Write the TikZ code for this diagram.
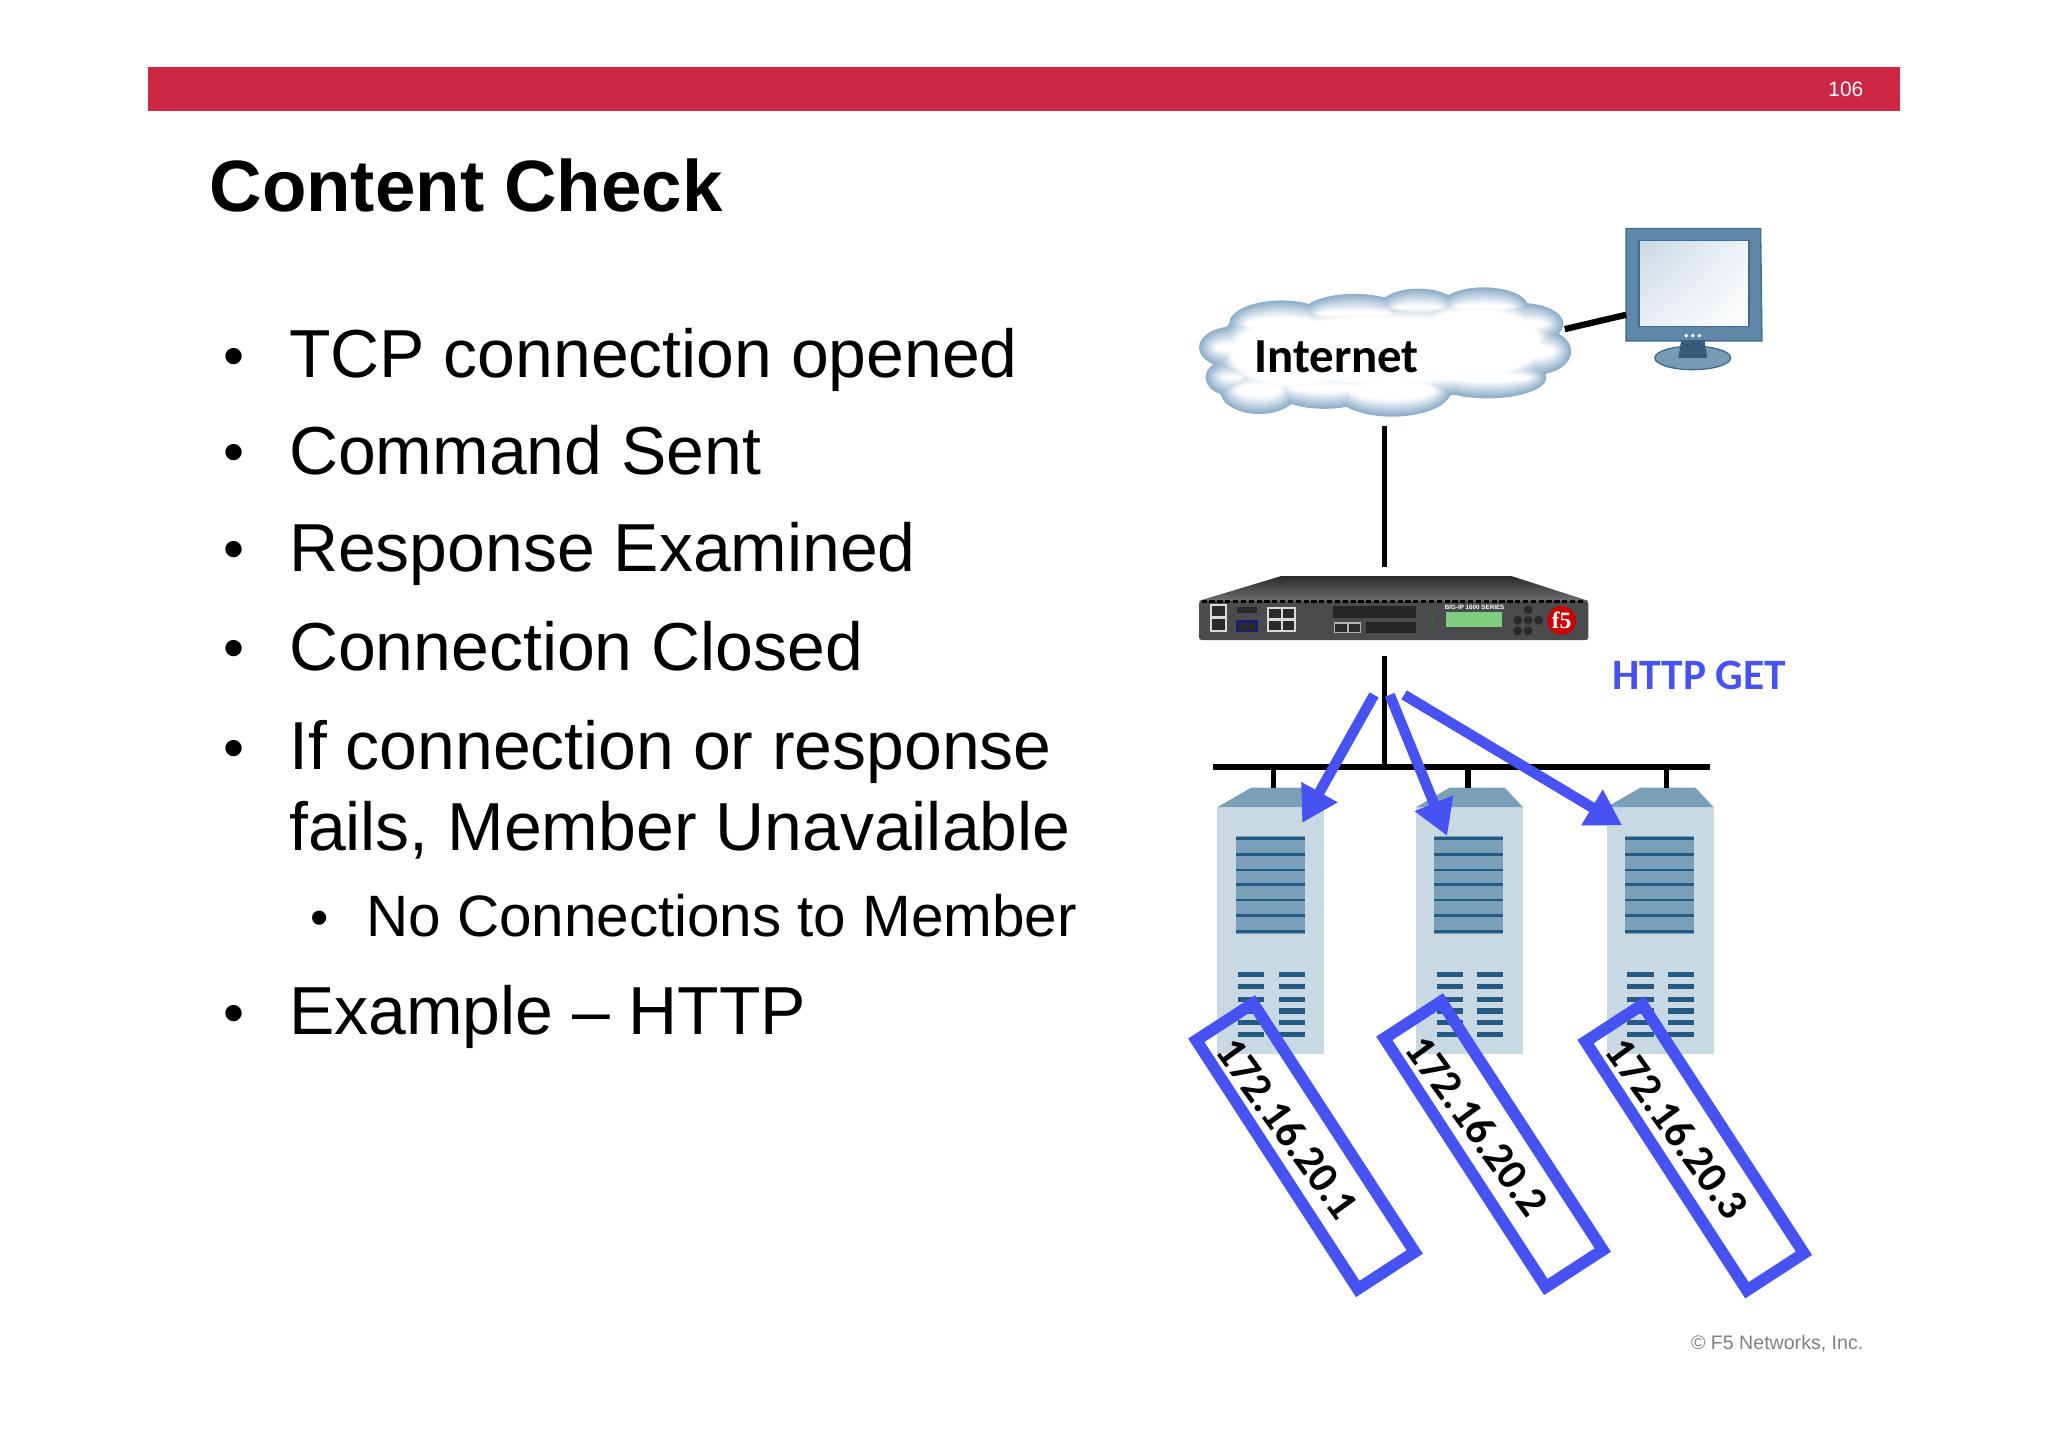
\documentclass[tikz,border=0pt]{standalone}
\usepackage{fontspec}
\setmainfont{Liberation Sans}
\newfontfamily\calib{Carlito}
\newfontfamily\serifbf{Liberation Serif}
\usetikzlibrary{arrows.meta,shapes.geometric,shadings}
\definecolor{barred}{HTML}{CC2744}
\definecolor{arrowblue}{HTML}{4653F2}
\definecolor{srvbody}{HTML}{C9D9E4}
\definecolor{srvtop}{HTML}{7C9FB8}
\definecolor{srvpanel}{HTML}{7A9FB9}
\definecolor{srvline}{HTML}{245B85}
\definecolor{monframe}{HTML}{5F88A8}
\definecolor{monedge}{HTML}{3F6C90}
\definecolor{cloudedge}{HTML}{8FB0CB}
\definecolor{devgray}{HTML}{4B4B4D}
\definecolor{devdark}{HTML}{2A2A2C}
\tikzset{
  body/.style={anchor=base west,inner sep=0pt,font=\fontsize{26pt}{30pt}\selectfont,text=black},
  sub/.style={anchor=base west,inner sep=0pt,font=\fontsize{22.35pt}{26pt}\selectfont,text=black},
  bul/.style={anchor=base,inner sep=0pt,font=\fontsize{23pt}{30pt}\selectfont,text=black},
  wire/.style={draw=black,line width=2pt},
  hit/.style={draw=arrowblue,line width=4pt,-{Triangle[length=13.5pt,width=15pt]}},
  ipbox/.style={draw=arrowblue,line width=4.5pt,rectangle,inner sep=0pt,minimum width=113.5pt,minimum height=26pt,rotate=-57},
  iptext/.style={inner sep=0pt,rotate=-54,font=\calib\bfseries\fontsize{16.6pt}{20pt}\selectfont,text=black},
}
\newcommand{\cloudlobes}[1]{%
  \foreach \cx/\cy/\rx/\ry in {944/266/26/16,943/289/20/14,964/299/30/18,1014/297/40/16,1066/299/45/20,1139/289/45/16,1175/269/28/18,1165/248/32/16,1136/235/34/15,1086/235/30/14,1037/240/40/15,981/248/40/18,1060/268/125/38,990/270/60/38,1130/262/62/38}{
    \fill[#1] (\cx,\cy) ellipse [x radius=\rx-\shr,y radius=\ry-\shr];
  }}
\newcommand{\serverunit}[2]{%
  \begin{scope}[xshift=#2*0.5pt]
    \node[rectangle,inner sep=0pt,minimum width=41pt,minimum height=94.5pt,fill=srvbody] (#1) at (973,712.5) {};
    \fill[srvtop] (932,618) -- (958,603) -- (1000,603) -- (1014,618) -- cycle;
    \fill[srvpanel] (946,640) rectangle (999,715);
    \foreach \yy in {642,654,666,677,689,701,713}{\fill[srvline] (946,\yy-1) rectangle (999,\yy+1);}
    \foreach \yy in {746,755,765,774,783,792}{
      \fill[srvline] (948,\yy-2) rectangle (968,\yy+2);
      \fill[srvline] (979,\yy-2) rectangle (999,\yy+2);
    }
  \end{scope}}
\begin{document}
\begin{tikzpicture}[x=0.5pt,y=-0.5pt]
\useasboundingbox (0,0) rectangle (1568,1107.9);
% header
\fill[barred] (113,51) rectangle (1455,85);
\node[anchor=base east,inner sep=0pt,text=white,font=\fontsize{8pt}{10pt}\selectfont] (pagenum) at (1427,74) {106};
\node[anchor=base west,inner sep=0pt,font=\bfseries\fontsize{27.85pt}{32pt}\selectfont] (title) at (160,162) {Content Check};
% bullets
\node[bul] (b1) at (179,288) {•};
\node[body] (t1) at (221,289) {TCP connection opened};
\node[bul] (b2) at (179,362) {•};
\node[body] (t2) at (221,363) {Command Sent};
\node[bul] (b3) at (179,436) {•};
\node[body] (t3) at (221,437.5) {Response Examined};
\node[bul] (b4) at (179,512) {•};
\node[body] (t4) at (221,513) {Connection Closed};
\node[bul] (b5) at (179,588) {•};
\node[body] (t5) at (221,589) {If connection or response};
\node[body] (t5b) at (221,651) {fails, Member Unavailable};
\node[bul,font=\fontsize{20pt}{26pt}\selectfont] (b6) at (245,716) {•};
\node[sub] (t6) at (280,717) {No Connections to Member};
\node[bul] (b7) at (179,791) {•};
\node[body] (t7) at (221,792) {Example – HTTP};
\node[anchor=base east,inner sep=0pt,text=black!50,font=\fontsize{7.5pt}{10pt}\selectfont] (foot) at (1427,1033) {© F5 Networks, Inc.};
% cloud
\foreach \shr/\mix in {0/100,1.5/88,3/76,4.5/64,6/52,7.5/40,9/28,10.5/16,12/6,13.5/0}{
  \edef\doit{\noexpand\cloudlobes{cloudedge!\mix!white}}\doit
}
\coordinate (cloudE) at (1198,252);
\coordinate (cloudS) at (1060,326);
\node[anchor=base west,inner sep=0pt,font=\calib\bfseries\fontsize{18.7pt}{20pt}\selectfont] (inet) at (960,285) {Internet};
% monitor
\filldraw[fill=monframe,draw=monedge,line width=0.5pt] (1245,175) -- (1348,175) -- (1349,261) -- (1245,261) -- cycle;
\draw[monedge,line width=0.6pt,fill=white] (1255,184) rectangle (1339,250);
\shade[upper left=srvbody,upper right=white!70!srvbody,lower left=white!60!srvbody,lower right=white] (1256,185) rectangle (1338,249);
\coordinate (monW) at (1245,241);
\fill[monframe!85!white,draw=monedge,line width=0.5pt] (1296,274) ellipse [x radius=29,y radius=9];
\fill[monedge!85!black] (1287,261) -- (1305,261) -- (1307,274) -- (1285,274) -- cycle;
\foreach \dx in {1291,1296,1301}{\fill[white] (\dx,257) circle (1.5);}
\draw[wire,line width=2.4pt] (cloudE) -- (monW);
% device
\coordinate (devN) at (1060,434);
\coordinate (devS) at (1060,502);
\shade[top color=devdark,bottom color=devgray!80!white] (981,441) -- (1157,441) -- (1216,460) -- (918,460) -- cycle;
\fill[devgray,rounded corners=1pt] (918,460) rectangle (1216,490);
\draw[black,line width=1pt,dash pattern=on 2pt off 1pt] (920,460.5) -- (1214,460.5);
\fill[white!85!black] (926.4,462.4) rectangle (939.7,483.5);
\fill[devdark] (928,464) rectangle (938,472);
\fill[devdark] (928,474) rectangle (938,482);
\fill[devdark] (947,464.5) rectangle (962,469.5);
\fill[blue!35!devdark] (946,475) rectangle (963,484);
\fill[devdark] (948,477) rectangle (961,482);
\fill[white!85!black] (970,465) rectangle (992,484);
\foreach \px/\py in {971.5/466.5,982/466.5,971.5/475.5,982/475.5}{\fill[devdark] (\px,\py) rectangle (\px+9,\py+7);}
\fill[black!85] (1020.5,464) rectangle (1084,473);
\fill[white!70!black] (1021,476) rectangle (1042,485);
\fill[devdark] (1022,478) rectangle (1031,484);
\fill[devdark] (1032.5,478) rectangle (1041,484);
\fill[black!85] (1045.5,476) rectangle (1084,485);
\foreach \ly in {468.6,472,476,479.5}{\fill[green!60!black] (1097,\ly) circle (0.9);}
\fill[green!45!gray!70!white] (1107,468.6) rectangle (1150,480);
\node[inner sep=0pt,text=white,font=\bfseries\fontsize{2.4pt}{3pt}\selectfont] (series) at (1129,465.3) {BIG-IP 1600 SERIES};
\foreach \kx/\ky in {1170/475,1162/475,1178/475,1170/467,1170/483,1162/483}{\fill[devdark] (\kx,\ky) circle (3.4);}
\node[circle,fill=red!80!black,inner sep=0pt,minimum size=11pt,text=white,font=\serifbf\bfseries\fontsize{9pt}{9pt}\selectfont] (f5) at (1195.6,475) {f5};
% bus
\coordinate (busW) at (929,587);
\coordinate (busE) at (1309,587);
\coordinate (busJ) at (1060,587);
\serverunit{srv1}{0}
\serverunit{srv2}{152}
\serverunit{srv3}{298}
\coordinate (stub1) at (975,587);
\coordinate (stub2) at (1124,587);
\coordinate (stub3) at (1276,587);
\coordinate (srvt1) at (975,603);
\coordinate (srvt2) at (1124,603);
\coordinate (srvt3) at (1276,603);
\draw[wire] (cloudS) -- (devN);
\draw[wire] (devS) -- (busJ);
\draw[wire,line width=2.2pt] (busW) -- (busE);
\draw[wire] (stub1) -- (srvt1);
\draw[wire] (stub2) -- (srvt2);
\draw[wire] (stub3) -- (srvt3);
% arrows
\coordinate (a1s) at (1052,532);
\coordinate (a1e) at (997,630);
\coordinate (a2s) at (1064,532);
\coordinate (a2e) at (1108,640);
\coordinate (a3s) at (1075,532);
\coordinate (a3e) at (1242,632);
\draw[hit] (a1s) -- (a1e);
\draw[hit] (a2s) -- (a2e);
\draw[hit] (a3s) -- (a3e);
\node[anchor=base west,inner sep=0pt,text=arrowblue,font=\calib\bfseries\fontsize{16.6pt}{18pt}\selectfont] (get) at (1234,528) {HTTP GET};
% address boxes
\node[ipbox] (box1) at (999.5,877.5) {};
\node[ipbox] (box2) at (1143.5,876) {};
\node[ipbox] (box3) at (1297.5,878.5) {};
\node[iptext] (ip1) at (986,864) {172.16.20.1};
\node[iptext] (ip2) at (1131,862) {172.16.20.2};
\node[iptext] (ip3) at (1284,864) {172.16.20.3};
\end{tikzpicture}
\end{document}
